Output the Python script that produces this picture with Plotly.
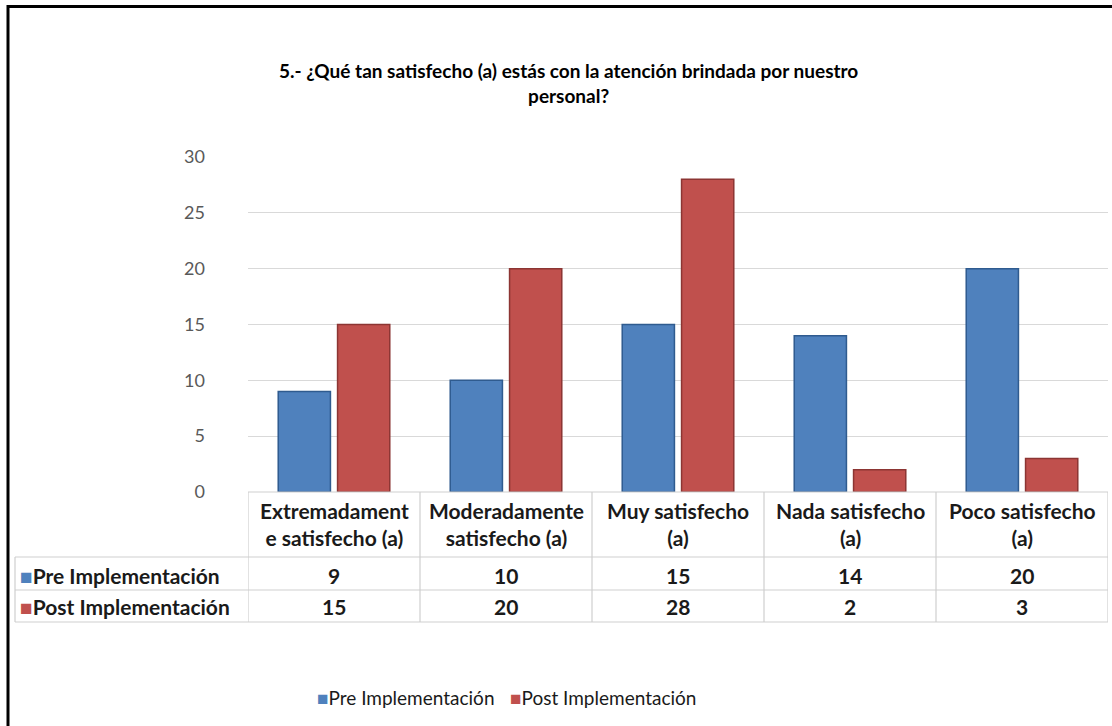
import plotly.graph_objects as go

# Survey question 5: satisfaction with staff attention, before and after implementation
categories = ["Extremadament<br>e satisfecho (a)", "Moderadamente<br>satisfecho (a)",
              "Muy satisfecho<br>(a)", "Nada satisfecho<br>(a)", "Poco satisfecho<br>(a)"]
series_names = ["Pre Implementación", "Post Implementación"]
pre_values = [9, 10, 15, 14, 20]
post_values = [15, 20, 28, 2, 3]
y_ticks = [0, 5, 10, 15, 20, 25, 30]

W, H = 1112, 726
FONT = "Lato"
BLUE, BLUE_EDGE = "#4F81BD", "#2F5B8F"
RED, RED_EDGE = "#C0504D", "#8C3533"
GRID = "#D9D9D9"
TABLE_LINE = "#CFCFCF"


def px(x):
    return x / W


def py(y):
    return 1 - y / H


x_idx = list(range(len(categories)))

fig = go.Figure()
fig.add_trace(go.Bar(x=x_idx, y=pre_values, name=series_names[0], showlegend=False,
                     marker=dict(color=BLUE, line=dict(color=BLUE_EDGE, width=1.5))))
fig.add_trace(go.Bar(x=x_idx, y=post_values, name=series_names[1], showlegend=False,
                     marker=dict(color=RED, line=dict(color=RED_EDGE, width=1.5))))

shapes = []
# outer frame
shapes.append(dict(type="rect", xref="paper", yref="paper", x0=px(8), x1=1.02,
                   y0=-0.02, y1=py(6.5), line=dict(color="black", width=3)))

# data table grid below the plot
left_plot, right_plot = 248, 1108
table_top, row1, row2, table_bottom = 492, 557, 590, 622
shapes.append(dict(type="line", xref="paper", yref="paper", x0=px(left_plot), x1=px(right_plot),
                   y0=py(table_top), y1=py(table_top), line=dict(color=TABLE_LINE, width=1.2)))
for yy in (row1, row2, table_bottom):
    shapes.append(dict(type="line", xref="paper", yref="paper", x0=px(15), x1=px(right_plot),
                       y0=py(yy), y1=py(yy), line=dict(color=TABLE_LINE, width=1.2)))
shapes.append(dict(type="line", xref="paper", yref="paper", x0=px(15), x1=px(15),
                   y0=py(row1), y1=py(table_bottom), line=dict(color=TABLE_LINE, width=1.2)))
for i in range(len(categories) + 1):
    shapes.append(dict(type="line", xref="x", yref="paper", x0=i - 0.5, x1=i - 0.5,
                       y0=py(table_top), y1=py(table_bottom),
                       line=dict(color=TABLE_LINE, width=1.2)))

annotations = []
annotations.append(dict(text="<b>5.- ¿Qué tan satisfecho (a) estás con la atención brindada por nuestro"
                             "<br>personal?</b>",
                        xref="paper", yref="paper", x=px(568), y=py(83), showarrow=False,
                        xanchor="center", yanchor="middle",
                        font=dict(family=FONT, size=19, color="black")))
TABLE_FONT = dict(family=FONT, size=21, color="#1A1A1A")
for i, cat in enumerate(categories):
    annotations.append(dict(text=f"<b>{cat}</b>", xref="x", yref="paper", x=i, y=py(524),
                            showarrow=False, xanchor="center", yanchor="middle",
                            font=TABLE_FONT))
    for val, yy in ((pre_values[i], 575), (post_values[i], 606)):
        annotations.append(dict(text=f"<b>{val}</b>", xref="x", yref="paper", x=i, y=py(yy),
                                showarrow=False, xanchor="center", yanchor="middle",
                                font=TABLE_FONT))
for name, color, yy in ((series_names[0], BLUE, 575), (series_names[1], RED, 606)):
    annotations.append(dict(text=f"<span style='color:{color}'>■</span><b>{name}</b>",
                            xref="paper", yref="paper", x=px(18), y=py(yy), showarrow=False,
                            xanchor="left", yanchor="middle", font=TABLE_FONT))

# legend row at the bottom
for name, color, xx in ((series_names[0], BLUE, 315), (series_names[1], RED, 508)):
    annotations.append(dict(text=f"<span style='color:{color}'>■</span>{name}",
                            xref="paper", yref="paper", x=px(xx), y=py(697), showarrow=False,
                            xanchor="left", yanchor="middle",
                            font=dict(family=FONT, size=19, color="#1A1A1A")))

fig.update_layout(
    width=W, height=H,
    margin=dict(l=0, r=0, t=0, b=0, pad=0, autoexpand=False),
    paper_bgcolor="white", plot_bgcolor="white",
    barmode="group", bargap=0.31, bargroupgap=0.12,
    showlegend=False,
    xaxis=dict(domain=[px(left_plot), px(right_plot)], range=[-0.5, len(categories) - 0.5],
               showticklabels=False, showgrid=False, zeroline=False, showline=False,
               fixedrange=True, automargin=False),
    yaxis=dict(domain=[py(table_top), py(157)], range=[0, 30], tickvals=y_ticks,
               showgrid=True, gridcolor=GRID, gridwidth=1.2, zeroline=False, showline=False,
               ticks="", ticklabelstandoff=42, automargin=False,
               tickfont=dict(family=FONT, size=18, color="#595959")),
    shapes=shapes,
    annotations=annotations,
    font=dict(family=FONT),
)

fig.write_html("out.html")
